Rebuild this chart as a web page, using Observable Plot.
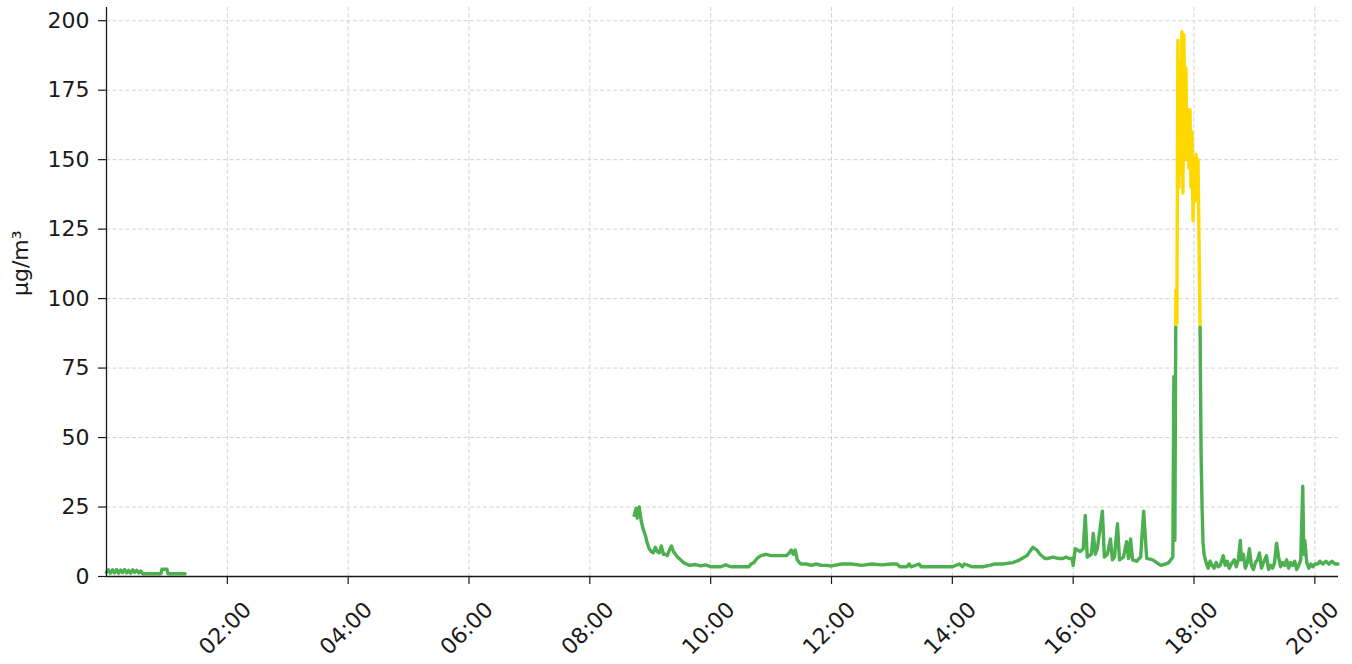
<!DOCTYPE html>
<html>
<head>
<meta charset="utf-8">
<script src="https://cdn.jsdelivr.net/npm/d3@7"></script>
<script src="https://cdn.jsdelivr.net/npm/@observablehq/plot@0.6"></script>
<style>
  html, body { margin: 0; padding: 0; background: #fff; }
  #chart svg { display: block; }
</style>
</head>
<body>
<div id="chart"></div>
<script>
// ---- data ----
const times = [
  "00:00","00:02","00:04","00:06","00:08","00:10","00:12","00:14","00:16","00:18",
  "00:20","00:22","00:24","00:26","00:28","00:30","00:32","00:34","00:36","00:45",
  "00:54","00:55","01:00","01:01","01:18","01:19",
  "08:44","08:46","08:47","08:49","08:51","08:53","08:55","08:57","08:59","09:01",
  "09:03","09:05","09:07","09:09","09:11","09:13","09:15","09:17","09:19","09:21",
  "09:23","09:25","09:27","09:30","09:33","09:36","09:39","09:45","09:50","09:55",
  "10:00","10:05","10:10","10:15","10:20","10:30","10:38","10:40","10:43","10:46",
  "10:50","10:55","11:00","11:05","11:10","11:15","11:18","11:20","11:22","11:24",
  "11:26","11:28","11:30","11:35","11:40","11:45","11:50","11:55","12:00","12:10",
  "12:20","12:30","12:40","12:50","13:00","13:05","13:08","13:15","13:17","13:19",
  "13:27","13:29","13:40","13:50","14:00","14:07","14:10","14:12","14:20","14:30",
  "14:37","14:42","14:50","15:00","15:07","15:14","15:20","15:24","15:27","15:32",
  "15:35","15:40","15:45","15:50","15:53","15:56","15:59","16:00","16:02","16:07",
  "16:10","16:12","16:14","16:18","16:20","16:22","16:24","16:29","16:31","16:34",
  "16:37","16:39","16:41","16:44","16:46","16:50","16:53","16:55","16:57","16:59",
  "17:03","17:07","17:10","17:13","17:19","17:23","17:27","17:32","17:35","17:39",
  "17:40","17:41","17:42","17:43","17:44","17:45","17:46","17:47","17:48","17:49",
  "17:50","17:51","17:52","17:53","17:54","17:55","17:56","17:57","17:58","17:59",
  "18:00","18:01","18:02","18:03","18:04","18:05","18:06","18:07","18:08","18:09",
  "18:10","18:12","18:14","18:16","18:18","18:20","18:22","18:24","18:26","18:29",
  "18:31","18:33","18:35","18:37","18:40","18:42","18:44","18:46","18:47","18:49",
  "18:51","18:53","18:55","18:57","18:59","19:01","19:03","19:05","19:07","19:09",
  "19:12","19:14","19:16","19:18","19:20","19:22","19:24","19:26","19:28","19:30",
  "19:32","19:34","19:36","19:38","19:40","19:42","19:44","19:46","19:48","19:49",
  "19:50","19:52","19:54","19:56","19:58","20:00","20:03","20:05","20:08","20:11",
  "20:14","20:17","20:20","20:23"
];
const values = [
  1.5,2.4,1.2,2.4,1.3,2.5,1.2,2.3,1.4,2.5,
  1.3,2.2,1.2,2.4,1.5,2.2,1.3,2.0,1.0,1.0,
  1.0,2.6,2.6,1.0,1.0,null,
  22,24.5,21,25,20,17,15,12,10,9,
  8.5,10.5,9,8.5,11,8,8,7.5,9.5,11,
  9,8,7,6,5,4.5,4,4.3,3.8,4.2,
  3.5,3.5,3.5,4.2,3.5,3.5,3.5,4.5,5,6.5,
  7.5,8,7.5,7.5,7.5,7.5,8.5,9.5,8,9.5,
  6,5,4.5,4.5,4,4.5,4,4,3.8,4.5,
  4.5,4,4.5,4.2,4.5,4.5,3.5,3.5,4.5,3.5,
  4.5,3.5,3.5,3.5,3.5,4.5,3.5,4.5,3.5,3.5,
  4,4.5,4.5,5,6,7.5,10.5,9.5,8,6.5,
  6.5,7,6.5,6.5,7,6.5,6.5,4,10,9,
  10,22,7,8,15.5,8,10,23.5,7,8,
  13.5,6,7,19,6,7,12.5,6.5,13.5,6,
  5.5,7,23.5,6.5,6,5,4,4.5,5,7,
  72,13,103,91,193,140,185,145,196,138,
  195,150,183,150,168,147,168,140,160,128,
  150,135,152,140,150,120,91,45,25,12,
  8,5,3,5.5,4,3,5,3.5,4,7.5,
  4,5.5,3,4.5,6,3.5,6,13,6,8,
  3,5,10,4,2.5,5,6,8.5,3,5,
  7.5,2.5,4,3,5,12,7,3.5,5,4,
  6,3,5,4,5.5,2.5,4,6,32.5,8,
  13,5,3,4.5,3.5,4.5,4.5,5.5,4.5,5.5,
  4.5,5.5,4.5,4.5
];
const yTicks = [0, 25, 50, 75, 100, 125, 150, 175, 200];
const xTickTimes = ["02:00","04:00","06:00","08:00","10:00","12:00","14:00","16:00","18:00","20:00"];
const xTickLabels = ["02:00","04:00","06:00","08:00","10:00","12:00","14:00","16:00","18:00","20:00"];
const xDomainTimes = ["00:00", "20:23:30"];
const yDomain = [0, 204.75];
const threshold = 90;
const unitLabel = "µg/m³";
const lowColor = "#4CAF50";
const highColor = "#FFD800";

// ---- build ----
const day = "2024-01-01";
const parseTime = t => new Date(`${day}T${t.length === 5 ? t + ":00" : t}Z`);
const data = times.map((t, i) => ({time: parseTime(t), value: values[i] == null ? NaN : values[i]}));
const xTicks = xTickTimes.map(parseTime);

const ns = "http://www.w3.org/2000/svg";
function gradientDefs(index, scales, channels, dimensions) {
  const defs = document.createElementNS(ns, "defs");
  const lg = document.createElementNS(ns, "linearGradient");
  lg.setAttribute("id", "pm-grad");
  lg.setAttribute("gradientUnits", "userSpaceOnUse");
  lg.setAttribute("x1", 0); lg.setAttribute("x2", 0);
  lg.setAttribute("y1", 0); lg.setAttribute("y2", dimensions.height);
  const t = scales.y(threshold) / dimensions.height;
  [[0, highColor], [t, highColor], [t, lowColor], [1, lowColor]].forEach(([o, c]) => {
    const s = document.createElementNS(ns, "stop");
    s.setAttribute("offset", o);
    s.setAttribute("stop-color", c);
    lg.appendChild(s);
  });
  defs.appendChild(lg);
  return defs;
}

const gridStyle = {stroke: "#c8c8c8", strokeOpacity: 1, strokeWidth: 0.8, strokeDasharray: "4,2.5"};

const chart = Plot.plot({
  width: 1352,
  height: 664,
  marginLeft: 106,
  marginRight: 14,
  marginTop: 7,
  marginBottom: 88,
  style: {fontFamily: "'DejaVu Sans', sans-serif", fontSize: "22px", color: "#1a1a1a", background: "#fff"},
  x: {type: "utc", domain: xDomainTimes.map(parseTime)},
  y: {domain: yDomain},
  marks: [
    gradientDefs,
    Plot.gridY(yTicks, gridStyle),
    Plot.gridX(xTicks, gridStyle),
    Plot.line(data, {x: "time", y: "value", stroke: "url(#pm-grad)", strokeWidth: 3.4, strokeLinejoin: "round"}),
    Plot.axisY(yTicks, {tickSize: 8, tickPadding: 9, label: null, fontSize: 22, stroke: "#1a1a1a", strokeWidth: 1.2}),
    Plot.axisX(xTicks, {tickSize: 8, tickFormat: () => "", label: null, stroke: "#1a1a1a", strokeWidth: 1.2}),
    Plot.text(xTicks, {x: d => d, frameAnchor: "bottom", text: (d, i) => xTickLabels[i], rotate: -45, textAnchor: "middle", lineAnchor: "middle", dy: 52, dx: -2, fontSize: 22, fill: "#1a1a1a"}),
    Plot.text([unitLabel], {frameAnchor: "left", text: d => d, rotate: -90, dx: -86, dy: 4, fontSize: 22, fill: "#1a1a1a"}),
    Plot.ruleX([parseTime(xDomainTimes[0])], {stroke: "#1a1a1a", strokeWidth: 1.3}),
    Plot.ruleY([0], {stroke: "#1a1a1a", strokeWidth: 1.3})
  ]
});
document.getElementById("chart").appendChild(chart);
</script>
</body>
</html>
